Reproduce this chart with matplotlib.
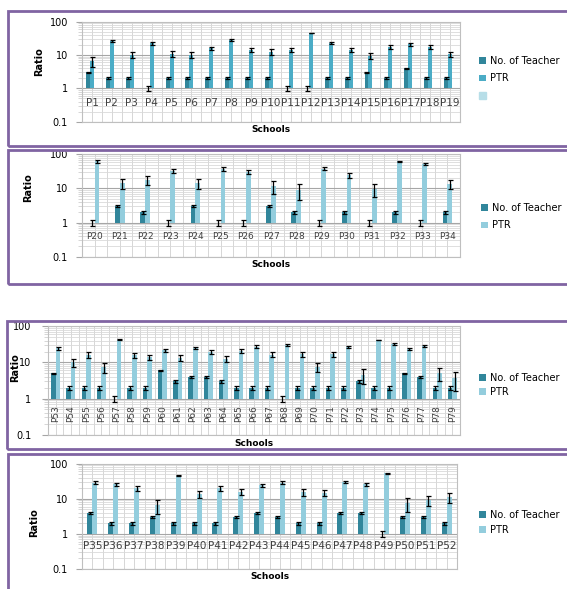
"""
teacher count and pupil-teacher ratio per school, four panels
"""
import numpy as np
import matplotlib.pyplot as plt
from matplotlib.patches import Rectangle, Patch
from matplotlib.ticker import NullFormatter
from matplotlib.transforms import offset_copy

W, H = 567, 589

teacher_color = '#31869b'
ptr_color_1 = '#4bacc6'
ptr_color = '#93cddd'
blank_color = '#b7dee8'
frame_color = '#8064a2'

# P1 - P19
schools1 = ['P%d' % i for i in range(1, 20)]
teacher1 = [3, 2, 2, 1, 2, 2, 2, 2, 2, 2, 1, 1, 2, 2, 3, 2, 4, 2, 2]
teacher1_err = [0.2, 0.15, 0.15, 0.16, 0.15, 0.15, 0.15, 0.15, 0.15, 0.15,
                0.16, 0.16, 0.15, 0.15, 0.2, 0.15, 0.2, 0.15, 0.15]
ptr1 = [6.7, 26, 10, 22.5, 11, 10, 16, 28.5, 14, 12.5,
        14.5, 46, 23, 14, 9.5, 17.5, 21, 17.5, 10.5]
ptr1_err = [2.2, 1.5, 2, 2, 2, 2, 2, 1.5, 2, 2.2,
            2, 0.5, 1.5, 2, 2, 2, 2, 2, 2]

# P20 - P34
schools2 = ['P%d' % i for i in range(20, 35)]
teacher2 = [1, 3, 2, 1, 3, 1, 1, 3, 2, 1, 2, 1, 2, 1, 2]
teacher2_err = [0.18, 0.2, 0.25, 0.18, 0.2, 0.18, 0.18, 0.2, 0.25, 0.18,
                0.25, 0.18, 0.25, 0.18, 0.25]
ptr2 = [62, 14.5, 18, 32, 14.5, 38, 31, 12, 9, 38, 24, 9.5, 62, 52, 13.5]
ptr2_err = [5, 5, 5, 4, 5, 5, 4, 5, 4.5, 4, 4, 4, 3, 3, 4]

# P53 - P79
schools3 = ['P%d' % i for i in range(53, 80)]
teacher3 = [5, 2, 2, 2, 1, 2, 2, 6, 3, 4, 4, 3, 2, 2, 2, 1,
            2, 2, 2, 2, 3, 2, 2, 5, 4, 2, 2]
teacher3_err = [0.2, 0.25, 0.25, 0.25, 0.2, 0.25, 0.25, 0.2, 0.25, 0.2, 0.2,
                0.25, 0.25, 0.25, 0.25, 0.2, 0.25, 0.25, 0.25, 0.25, 0.25,
                0.25, 0.25, 0.2, 0.2, 0.25, 0.25]
ptr3 = [24.5, 10, 16.5, 7.5, 43, 16, 14, 21.5, 13.5, 25, 20, 12.5, 21, 27.5,
        16.5, 30, 17, 7.5, 17, 27, 4.6, 42, 32, 23.5, 29, 5, 3.6]
ptr3_err = [3, 2.5, 3, 2.3, 1.5, 2.5, 2.5, 2.5, 2.5, 2, 2.5, 2.5, 2.5, 2.5,
            2.5, 1.5, 2.5, 2, 2.5, 2, 2, 1, 1.5, 2, 2, 2, 2]

# P35 - P52
schools4 = ['P%d' % i for i in range(35, 53)]
teacher4 = [4, 2, 2, 3, 2, 2, 2, 3, 4, 3, 2, 2, 4, 4, 1, 3, 3, 2]
teacher4_err = [0.2, 0.25, 0.25, 0.25, 0.25, 0.25, 0.25, 0.25, 0.2, 0.25,
                0.25, 0.25, 0.2, 0.2, 0.2, 0.25, 0.25, 0.25]
ptr4 = [29, 26, 20, 6.5, 46, 13.5, 20, 15.5, 24, 29,
        15.5, 15, 30, 26, 54, 7.5, 9.3, 11]
ptr4_err = [3, 3, 3, 2.9, 2, 3, 3, 3, 3, 2.5,
            3.4, 3, 2.5, 2.5, 1.5, 3.2, 3, 3.5]


def box(x0, y0, x1, y1):
    # pixel box -> figure fraction rect
    return [x0 / W, 1 - y1 / H, (x1 - x0) / W, (y1 - y0) / H]


def frame(fig, x0, y0, x1, y1):
    fig.add_artist(Rectangle((x0 / W, 1 - y1 / H), (x1 - x0) / W, (y1 - y0) / H,
                             transform=fig.transFigure, fill=False,
                             ec=frame_color, lw=2, clip_on=False))


def draw_panel(fig, ax, schools, teacher, teacher_err, ptr, ptr_err,
               width, t_pos, p_pos, p_color, label_dy, label_size,
               rotate=False, tick_pad=6):
    n = len(schools)
    x = np.arange(n)
    teacher = np.array(teacher, float)
    ptr = np.array(ptr, float)

    ax.set_yscale('log')
    ax.set_ylim(0.1, 100)
    ax.set_xlim(-0.5, n - 0.5)

    # bars hang from the 1 line
    b1 = ax.bar(x + t_pos, teacher - 1, width, bottom=1,
                color=teacher_color, zorder=3)
    b2 = ax.bar(x + p_pos, ptr - 1, width, bottom=1,
                color=p_color, zorder=3)
    ax.errorbar(x + t_pos, teacher, yerr=teacher_err, fmt='none', ecolor='k',
                elinewidth=0.9, capsize=1.8, capthick=0.9, zorder=4)
    ax.errorbar(x + p_pos, ptr, yerr=ptr_err, fmt='none', ecolor='k',
                elinewidth=0.9, capsize=1.8, capthick=0.9, zorder=4)

    ax.set_yticks([0.1, 1, 10, 100])
    ax.set_yticklabels(['0.1', '1', '10', '100'])
    ax.yaxis.set_minor_formatter(NullFormatter())
    ax.tick_params(axis='y', which='major', labelsize=7, length=4,
                   color='#a6a6a6', pad=tick_pad)
    ax.tick_params(axis='y', which='minor', length=3, color='#d0d0d0')
    ax.yaxis.grid(True, which='major', color='#a6a6a6', lw=0.8)
    ax.yaxis.grid(True, which='minor', color='#d9d9d9', lw=0.6)

    ax.set_xticks(np.arange(-0.5, n, 0.5))
    ax.set_xticklabels([])
    ax.tick_params(axis='x', length=0)
    ax.xaxis.grid(True, color='#d0d0d0', lw=0.6)
    ax.set_axisbelow(True)
    for s in ax.spines.values():
        s.set_color('#bfbfbf')
        s.set_linewidth(0.8)

    # category names sit just under the 1 line
    trans = offset_copy(ax.transData, fig=fig, y=label_dy, units='dots')
    for xi, name in zip(x, schools):
        if rotate:
            ax.text(xi, 1, name, transform=trans, ha='center', va='top',
                    rotation=90, fontsize=label_size, color='#404040')
        else:
            ax.text(xi, 1, name, transform=trans, ha='center', va='center',
                    fontsize=label_size, color='#404040')

    ax.set_ylabel('Ratio', fontsize=7, fontweight='bold')
    ax.set_xlabel('Schools', fontsize=6.5, fontweight='bold')
    return b1, b2


def add_legend(fig, ax, handles, labels, x, y, spacing):
    ax.legend(handles, labels, loc='center left',
              bbox_to_anchor=(x / W, 1 - y / H), bbox_transform=fig.transFigure,
              frameon=False, fontsize=7, handlelength=0.7, handleheight=0.7,
              handletextpad=0.4, labelspacing=spacing, borderpad=0,
              borderaxespad=0)


fig = plt.figure(figsize=(5.67, 5.89), dpi=100)
fig.patch.set_facecolor('white')

frame(fig, 8, 11, 580, 146)
frame(fig, 8, 149.5, 580, 284)
frame(fig, 7, 320.5, 580, 449)
frame(fig, 8, 453.5, 580, 600)

# panel 1
ax1 = fig.add_axes(box(82, 21.7, 460, 121.7))
b1, b2 = draw_panel(fig, ax1, schools1, teacher1, teacher1_err, ptr1, ptr1_err,
                    0.2, -0.2, 0.0, ptr_color_1, -14.7, 7.5)
ax1.yaxis.set_label_coords(-0.10, 0.6)
ax1.xaxis.set_label_coords(0.5, -0.033)
add_legend(fig, ax1, [b1, b2, Patch(color=blank_color)],
           ['No. of Teacher', 'PTR', ''], 479, 78.5, 0.8)

# panel 2
ax2 = fig.add_axes(box(82, 154.3, 460, 256.7))
b1, b2 = draw_panel(fig, ax2, schools2, teacher2, teacher2_err, ptr2, ptr2_err,
                    0.19, -0.095, 0.095, ptr_color, -14, 6.5)
ax2.yaxis.set_label_coords(-0.13, 0.67)
ax2.xaxis.set_label_coords(0.5, -0.032)
add_legend(fig, ax2, [b1, b2], ['No. of Teacher', 'PTR'], 481, 216.5, 0.8)

# panel 3, narrower left margin and rotated names
ax3 = fig.add_axes(box(48, 326.3, 460, 434.7))
b1, b2 = draw_panel(fig, ax3, schools3, teacher3, teacher3_err, ptr3, ptr3_err,
                    0.3, -0.15, 0.15, ptr_color, -7, 6.5, rotate=True,
                    tick_pad=8)
ax3.yaxis.set_label_coords(-0.068, 0.615)
ax3.xaxis.set_label_coords(0.5, -0.04)
add_legend(fig, ax3, [b1, b2], ['No. of Teacher', 'PTR'], 479, 385, 0.45)

# panel 4
ax4 = fig.add_axes(box(82, 463.7, 457, 569))
b1, b2 = draw_panel(fig, ax4, schools4, teacher4, teacher4_err, ptr4, ptr4_err,
                    0.24, -0.12, 0.12, ptr_color, -12, 7.5)
ax4.yaxis.set_label_coords(-0.115, 0.44)
ax4.xaxis.set_label_coords(0.5, -0.028)
add_legend(fig, ax4, [b1, b2], ['No. of Teacher', 'PTR'], 479, 522.5, 0.55)

fig.savefig('out.png', dpi=100)
